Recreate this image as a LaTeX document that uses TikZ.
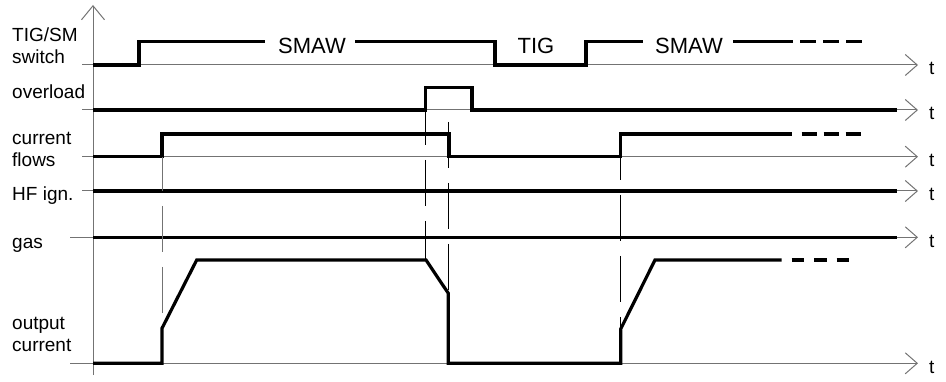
\documentclass[tikz,border=0pt]{standalone}
\usepackage{fontspec}
\setmainfont{Liberation Sans}
\usetikzlibrary{arrows.meta}
\begin{document}
\begin{tikzpicture}[x=1pt,y=-1pt,
  axis/.style={draw=black!55, line width=1pt},
  axisarrow/.style={axis, -{Straight Barb[length=12pt,width=21pt]}},
  sig/.style={line width=3.2pt, line join=miter},
  tail/.style={line width=3.2pt, dash pattern=on 16pt off 7pt},
  guide/.style={line width=0.8pt, dash pattern=on 46pt off 15pt},
  lbl/.style={inner sep=0pt, anchor=base west, font=\fontsize{19}{22}\selectfont},
  mode/.style={inner sep=0pt, anchor=base, font=\fontsize{22}{26}\selectfont}]
\useasboundingbox (0,0) rectangle (946,382);

% vertical axis
\draw[axis, -{Straight Barb[length=14pt,width=23pt]}] (93,375) -- (93,5);

% time axes of the six rows
\draw[axisarrow] (82,65) -- (918,65);
\draw[axisarrow] (82,110) -- (918,110);
\draw[axisarrow] (82,156.7) -- (918,156.7);
\draw[axisarrow] (82,191) -- (918,191);
\draw[axisarrow] (70,237.3) -- (918,237.3);
\draw[axisarrow] (70,363.3) -- (918,363.3);

% row labels
\node[lbl] (l1a) at (12,41.7) {TIG/SM};
\node[lbl] (l1b) at (12,64) {switch};
\node[lbl] (l2) at (12,99) {overload};
\node[lbl] (l3a) at (12,145) {current};
\node[lbl] (l3b) at (12,166.5) {flows};
\node[lbl] (l4) at (12,200.7) {HF ign.};
\node[lbl] (l5) at (12,248.3) {gas};
\node[lbl] (l6a) at (12,329.3) {output};
\node[lbl] (l6b) at (12,351.7) {current};

% time labels
\foreach \yy/\nm in {65/t1,110/t2,156.7/t3,191/t4,237.3/t5,363.3/t6}
  \node[lbl] (\nm) at (929,\yy+10) {t};

% TIG/SM switch
\draw[sig] (93,65) -- (139,65) -- (139,41.7) -- (265,41.7);
\draw[sig] (355,41.7) -- (495,41.7) -- (495,65) -- (586,65) -- (586,41.7) -- (643,41.7);
\draw[sig] (733,41.7) -- (793,41.7);
\draw[tail] (800,41.7) -- (862,41.7);
\node[mode] (m1) at (312,53.3) {SMAW};
\node[mode] (m2) at (536,53.3) {TIG};
\node[mode] (m3) at (689,53.3) {SMAW};

% overload
\draw[sig] (93,110) -- (425.7,110) -- (425.7,87.3) -- (472,87.3) -- (472,110) -- (897,110);

% current flows
\draw[sig] (93,156.7) -- (162,156.7) -- (162,134) -- (449,134) -- (449,156.7)
  -- (620.7,156.7) -- (620.7,134) -- (791.7,134);
\draw[tail, dash pattern=on 15pt off 7pt] (801.7,134) -- (862,134);

% HF ignition and gas
\draw[sig] (93,191) -- (897,191);
\draw[sig] (93,237.3) -- (897,237.3);

% output current
\draw[sig] (93,363.3) -- (162,363.3) -- (162,328.3) -- (196.7,260) -- (426,260)
  -- (448.3,293.3) -- (448.3,363.3) -- (620.7,363.3) -- (620.7,329) -- (655,260) -- (781.7,260);
\draw[tail, dash pattern=on 12.5pt off 10pt] (791.7,260) -- (850,260);

% guide lines between events
\draw[guide, draw=black!55, dash phase=12pt] (162,157) -- (162,315);
\draw[guide, dash phase=11pt] (425.7,110) -- (425.7,260);
\draw[guide] (448.3,122) -- (448.3,293);
\draw[guide, dash phase=23pt] (620.7,157) -- (620.7,328);
\end{tikzpicture}
\end{document}
